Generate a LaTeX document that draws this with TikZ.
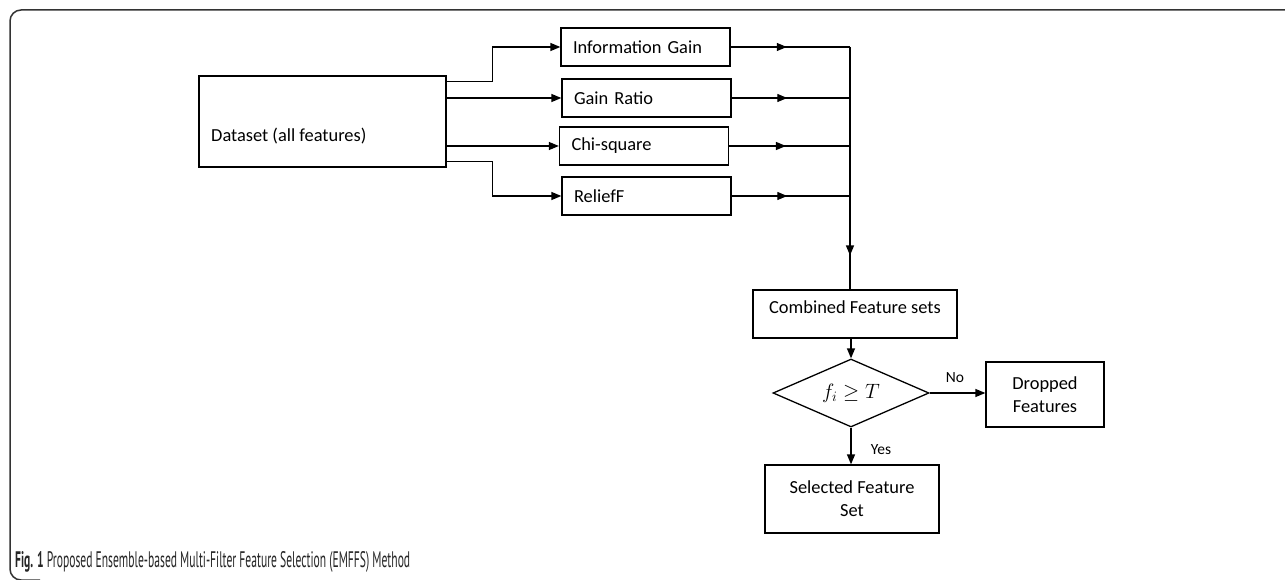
\documentclass[tikz,border=0pt]{standalone}
\usepackage{graphicx}
\usepackage{fontspec}
\setmainfont{Carlito}
\newfontfamily\capfont{PT Sans}
\usetikzlibrary{arrows.meta,shapes.geometric,decorations.markings,calc}
\begin{document}
\begin{tikzpicture}[x=1pt,y=-1pt,
  box/.style={draw=black, line width=1.3pt, inner sep=0pt, font=\fontsize{18.4}{23}\selectfont},
  filt/.style={box, minimum width=169pt, minimum height=38pt, text width=145pt, align=left},
  conn/.style={line width=1.3pt},
  tip/.style={-{Triangle[length=10pt,width=8pt]}},
  arr/.style={conn, tip},
  midarr/.style={conn, postaction={decorate}, decoration={markings, mark=at position #1 with {\arrow{Triangle[length=10pt,width=8pt]}}}},
  lbl/.style={font=\fontsize{15.5}{17}\selectfont},
  txt/.style={inner sep=0pt, font=\fontsize{18.4}{23}\selectfont}
]
\path[use as bounding box] (0,0) rectangle (1285,580);
\clip (0,0) rectangle (1285,580);
% frame
\draw[line width=1.5pt, black!80, rounded corners=11pt] (1300,10) -- (10,10) -- (10,580) -- (40,580);

% dataset
\node[box, minimum width=247pt, minimum height=91pt] (ds) at (322.5,121.5) {};
\node[txt, anchor=west] (dstext) at (211,136) {Dataset (all features)};

% filters
\node[filt] (ig) at (645.5,47) {Information Gain};
\node[filt] (gr) at (646.5,98) {Gain Ratio};
\node[filt] (chi) at (644,146) {Chi-square};
\node[filt] (rf) at (646.5,196) {ReliefF};

% combined
\node[box, minimum width=204pt, minimum height=48pt] (combo) at (855,314) {};
\node[txt] (combotext) at (855,307) {Combined Feature sets};

% decision
\node[draw=black, line width=1.3pt, diamond, aspect=2.3, minimum width=156pt, minimum height=68pt, inner sep=0pt] (dia) at (851,393) {\fontsize{20}{22}\selectfont$f_i \geq T$};

% outputs
\node[box, minimum width=174pt, minimum height=68pt, align=center] (sel) at (852,499) {Selected Feature\\Set};
\node[box, minimum width=118pt, minimum height=65pt, align=center] (drop) at (1045,394.5) {Dropped\\Features};

\coordinate (bus) at (850,0);

% dataset -> filters
\draw[arr] ($(ds.north east)+(0,6)$) -- ++(46,0) |- (ig.west);
\draw[arr] (gr.west -| ds.east) -- (gr.west);
\draw[arr] (chi.west -| ds.east) -- (chi.west);
\draw[arr] ($(ds.south east)+(0,-6)$) -- ++(46,0) |- (rf.west);

% filters -> bus
\draw[midarr=0.47] (ig.east) -- (ig.east -| bus);
\draw[midarr=0.47] (gr.east) -- (gr.east -| bus);
\draw[midarr=0.47] (chi.east) -- (chi.east -| bus);
\draw[midarr=0.47] (rf.east) -- (rf.east -| bus);
\draw[midarr=0.86] (ig.east -| bus) -- (combo.north -| bus);

% combined -> decision
\draw[arr] (combo.south -| dia.north) -- (dia.north);
\draw[arr] (dia.south) -- (dia.south |- sel.north);
\draw[arr] (dia.east) -- (dia.east -| drop.west);
\node[lbl] (yes) at (881,450) {Yes};
\node[lbl] (no) at (955,378) {No};

% caption
\node[anchor=base west, inner sep=0pt, text=black!85] (cap) at (15,567) {\resizebox{395pt}{16pt}{\capfont\fontsize{17}{20}\selectfont\textbf{Fig. 1} Proposed Ensemble-based Multi-Filter Feature Selection (EMFFS) Method}};
\end{tikzpicture}
\end{document}
